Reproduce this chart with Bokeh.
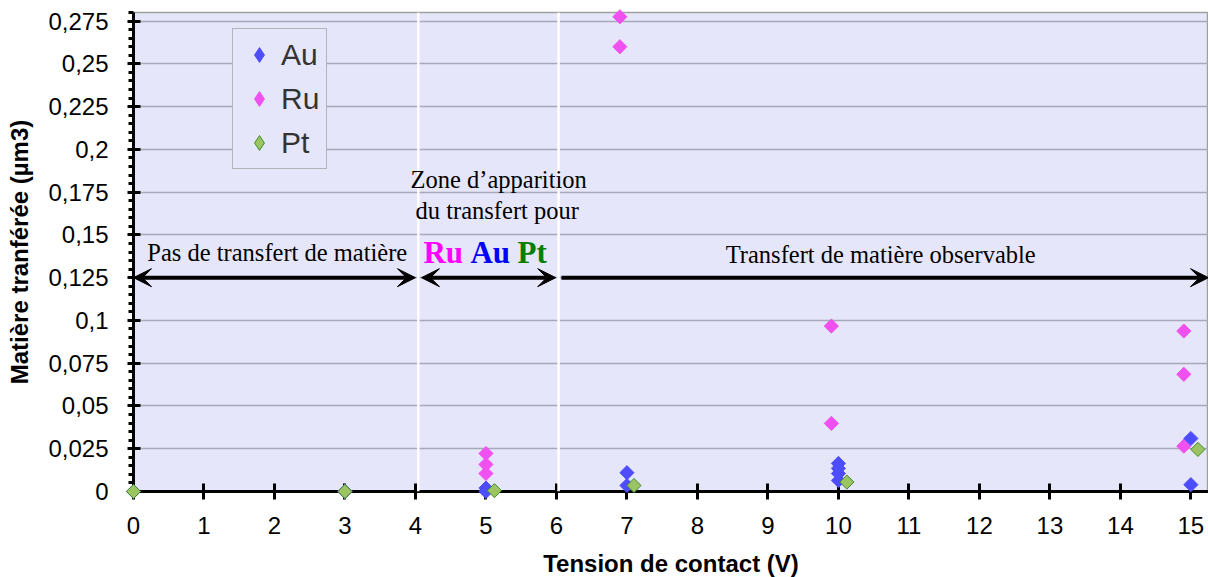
import numpy as np
from bokeh.plotting import figure
from bokeh.models import (Range1d, SingleIntervalTicker, CustomJSTickFormatter, Legend,
                          LegendItem, Span, Arrow, VeeHead, Label, ColumnDataSource)
from bokeh.embed import file_html
from bokeh.resources import INLINE

# ---- data ----
au_x = [0, 3, 5, 5, 7, 7, 10, 10, 10, 10, 15, 15]
au_y = [0, 0, 0.002, 0.0, 0.011, 0.0035, 0.0164, 0.0135, 0.0105, 0.0064, 0.031, 0.004]
ru_x = [0, 3, 5, 5, 5, 6.9, 6.9, 9.9, 9.9, 14.9, 14.9, 14.9]
ru_y = [0, 0, 0.0222, 0.0158, 0.0105, 0.2775, 0.26, 0.0967, 0.0398, 0.0938, 0.0685, 0.0265]
pt_x = [0, 3, 5.12, 7.1, 10.12, 15.1]
pt_y = [0, 0, 0.0005, 0.0035, 0.0055, 0.0246]

series_names = ["Au", "Ru", "Pt"]
x_title = "Tension de contact (V)"
y_title = "Matière tranférée (µm3)"

zone_bounds = [4.04, 6.03]
arrow_y = 0.125
arrow_spans = [(0.0, 4.0, True), (4.085, 5.99, True), (6.07, 15.25, False)]
zone_texts = [
    ("Pas de transfert de matière", 2.04, 0.1398),
    ("Zone d\u2019apparition", 5.18, 0.1826),
    ("du transfert pour", 5.16, 0.1643),
    ("Transfert de matière observable", 10.6, 0.1383),
]
metal_texts = [("Ru", 4.113, "#FF00FF"), ("Au", 4.78, "#0000FF"), ("Pt", 5.447, "#008000")]
metal_text_y = 0.1400

BG = "#E6E6FA"
C_AU = "#4D4DFF"
C_RU = "#F050F0"
C_PT = "#9CC462"
C_PT_LINE = "#3E8E2E"

p = figure(frame_width=1075, frame_height=479, output_backend="svg", toolbar_location=None,
           x_range=Range1d(0, 15.25), y_range=Range1d(0, 0.28),
           min_border_left=133, min_border_right=0, min_border_top=12, min_border_bottom=0,
           background_fill_color=BG, border_fill_color="white")
p.outline_line_color = "#A0A0A0"
p.outline_line_width = 1.5

# axes
xt = SingleIntervalTicker(interval=1, num_minor_ticks=0)
yt = SingleIntervalTicker(interval=0.025, num_minor_ticks=5)
p.xaxis.ticker = xt
p.yaxis.ticker = yt
p.ygrid.ticker = yt
p.xgrid.visible = False
p.ygrid.grid_line_color = "#A8A8B8"
p.ygrid.grid_line_width = 1.5

p.yaxis.formatter = CustomJSTickFormatter(code="""
var s = tick.toFixed(3).replace(/0+$/, '').replace(/\\.$/, '');
return s.replace('.', ',');
""")

for ax in (p.xaxis[0], p.yaxis[0]):
    ax.axis_line_color = "black"
    ax.axis_line_width = 3
    ax.major_tick_line_color = "black"
    ax.major_tick_line_width = 3
    ax.minor_tick_line_color = "black"
    ax.minor_tick_line_width = 3
    ax.major_label_text_font = "Liberation Sans"
    ax.major_label_text_font_size = "24px"
    ax.major_label_text_color = "black"
    ax.axis_label_text_font = "Liberation Sans"
    ax.axis_label_text_font_size = "24px"
    ax.axis_label_text_font_style = "bold"
    ax.axis_label_text_color = "black"

p.xaxis.axis_label = x_title
p.yaxis.axis_label = y_title
p.xaxis.major_tick_in = 8
p.xaxis.major_tick_out = 8
p.xaxis.major_label_standoff = 17
p.xaxis.axis_label_standoff = 13
p.yaxis.major_tick_in = 7
p.yaxis.major_tick_out = 6
p.yaxis.minor_tick_in = 0
p.yaxis.minor_tick_out = 5
p.yaxis.major_label_standoff = 19
p.yaxis.axis_label_standoff = 12

# zone separators
for b in zone_bounds:
    p.add_layout(Span(location=b, dimension="height", line_color="white", line_width=2.5))

# arrows
for x0, x1, both in arrow_spans:
    end = VeeHead(size=18, fill_color="black", line_color="black", line_width=1)
    start = VeeHead(size=18, fill_color="black", line_color="black", line_width=1) if both else None
    p.add_layout(Arrow(x_start=x0, y_start=arrow_y, x_end=x1, y_end=arrow_y,
                       start=start, end=end, line_width=4, line_color="black"))

for txt, x, y in zone_texts:
    p.add_layout(Label(x=x, y=y, text=txt, text_font="Liberation Serif", text_font_size="24.5px",
                       text_align="center", text_baseline="alphabetic", text_color="black"))
for txt, x, c in metal_texts:
    p.add_layout(Label(x=x, y=metal_text_y, text=txt, text_font="Liberation Serif",
                       text_font_size="31px", text_font_style="bold", text_align="left",
                       text_baseline="alphabetic", text_color=c))

# data (drawn above the axes, as in the reference)
src_au = ColumnDataSource(dict(x=au_x, y=au_y))
src_ru = ColumnDataSource(dict(x=ru_x, y=ru_y))
src_pt = ColumnDataSource(dict(x=pt_x, y=pt_y))
ang = np.pi / 4
r_ru = p.scatter("x", "y", source=src_ru, marker="square", size=10, angle=ang,
                 fill_color=C_RU, line_color=C_RU, line_width=1, level="overlay")
r_au = p.scatter("x", "y", source=src_au, marker="square", size=10, angle=ang,
                 fill_color=C_AU, line_color=C_AU, line_width=1, level="overlay")
r_pt = p.scatter("x", "y", source=src_pt, marker="square", size=10, angle=ang,
                 fill_color=C_PT, line_color=C_PT_LINE, line_width=1, level="overlay")

# legend-only glyphs (legend does not rotate markers, so use diamonds there)
nan_src = ColumnDataSource(dict(x=[np.nan], y=[np.nan]))
l_au = p.scatter("x", "y", source=nan_src, marker="diamond", size=14,
                 fill_color=C_AU, line_color=C_AU, line_width=1)
l_ru = p.scatter("x", "y", source=nan_src, marker="diamond", size=14,
                 fill_color=C_RU, line_color=C_RU, line_width=1)
l_pt = p.scatter("x", "y", source=nan_src, marker="diamond", size=14,
                 fill_color=C_PT, line_color=C_PT_LINE, line_width=1)

legend = Legend(items=[LegendItem(label=series_names[0], renderers=[l_au]),
                       LegendItem(label=series_names[1], renderers=[l_ru]),
                       LegendItem(label=series_names[2], renderers=[l_pt])],
                location=(99, 322))
legend.label_text_font = "Liberation Sans"
legend.label_text_font_size = "30px"
legend.label_text_color = "#333333"
legend.label_height = 36
legend.glyph_height = 37
legend.glyph_width = 38
legend.spacing = 7
legend.padding = 7
legend.margin = 0
legend.label_standoff = 3
legend.border_line_color = "#808080"
legend.border_line_width = 1.5
legend.background_fill_color = BG
legend.background_fill_alpha = 1.0
p.add_layout(legend)

open("out.html", "w").write(file_html(p, INLINE))
